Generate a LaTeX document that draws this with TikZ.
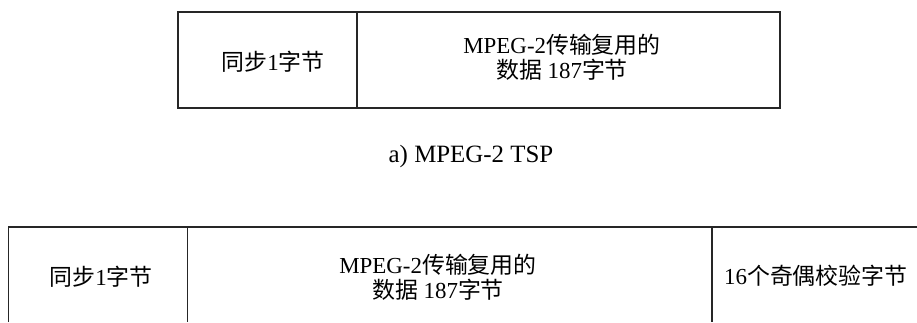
\documentclass[tikz,border=0pt]{standalone}
\usepackage{fontspec}
\setmainfont{Liberation Serif}
\newfontfamily\cjk{Noto Sans CJK SC}
\begin{document}
\begin{tikzpicture}[x=1bp,y=-1bp,
  frame/.style={draw=black!85, line width=1.2bp},
  lbl/.style={font=\fontsize{23}{25.5}\selectfont, align=center, inner sep=0pt},
  captext/.style={font=\fontsize{25}{30}\selectfont, inner sep=0pt}]
\useasboundingbox (0,0) rectangle (917,322);
% a) top packet
\coordinate (a1) at (178,12);
\coordinate (a2) at (780,108);
\coordinate (ad1) at (357,12);
\coordinate (ad2) at (357,108);
\draw[frame] (a1) rectangle (a2);
\draw[frame] (ad1) -- (ad2);
\node[lbl] (async) at (273,62) {{\cjk 同步}1{\cjk 字节}};
\node[lbl] (adata) at (562,57) {MPEG-2{\cjk 传输复用的}\\{\cjk 数据} 187{\cjk 字节}};
\node[captext, anchor=base] (acap) at (471,162) {a) MPEG-2 TSP};
% b) bottom packet (cropped)
\coordinate (b0) at (8.7,322);
\coordinate (b1) at (8.7,227);
\coordinate (b2) at (917,227);
\coordinate (bd1t) at (187.7,227);
\coordinate (bd1b) at (187.7,322);
\coordinate (bd2t) at (712,227);
\coordinate (bd2b) at (712,322);
\draw[frame] (b0) -- (b1) -- (b2);
\draw[frame] (bd1t) -- (bd1b);
\draw[frame] (bd2t) -- (bd2b);
\node[lbl] (bsync) at (101,277) {{\cjk 同步}1{\cjk 字节}};
\node[lbl] (bdata) at (438,277) {MPEG-2{\cjk 传输复用的}\\{\cjk 数据} 187{\cjk 字节}};
\node[lbl, anchor=west] (bpar) at (724,276) {16{\cjk 个奇偶校验字节}};
\end{tikzpicture}
\end{document}
